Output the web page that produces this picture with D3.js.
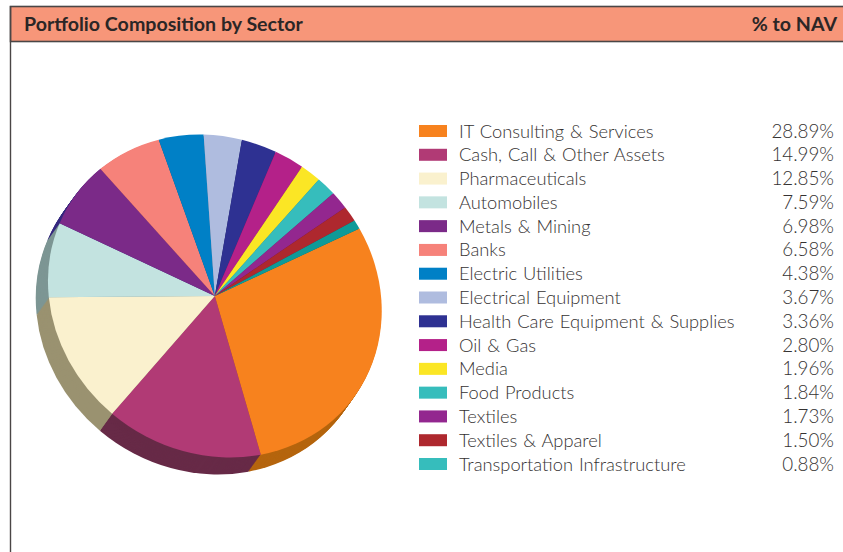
<!DOCTYPE html>
<html>
<head>
<meta charset="utf-8">
<script src="https://cdn.jsdelivr.net/npm/d3@7"></script>
<style>
  html, body { margin: 0; padding: 0; background: #fff; overflow: hidden; }
  svg { display: block; }
  text { font-family: Lato, "Open Sans", sans-serif; }
</style>
</head>
<body>
<script>
const sectors = ["IT Consulting & Services", "Cash, Call & Other Assets", "Pharmaceuticals", "Automobiles", "Metals & Mining", "Banks", "Electric Utilities", "Electrical Equipment", "Health Care Equipment & Supplies", "Oil & Gas", "Media", "Food Products", "Textiles", "Textiles & Apparel", "Transportation Infrastructure"];
const shares = [28.89, 14.99, 12.85, 7.59, 6.98, 6.58, 4.38, 3.67, 3.36, 2.80, 1.96, 1.84, 1.73, 1.50, 0.88];
const swatchColors = ["#f7821e", "#b13a75", "#faf1ce", "#c3e3e0", "#7b2a88", "#f6827a", "#0080c6", "#afbcdf", "#2e3192", "#b42189", "#fbe625", "#36bdbc", "#93278f", "#ae282e", "#36bdbc"];
const sliceColors = ["#f7821e", "#b13a75", "#faf1ce", "#c3e3e0", "#7b2a88", "#f6827a", "#0080c6", "#afbcdf", "#2e3192", "#b42189", "#fbe625", "#36bdbc", "#93278f", "#ae282e", "#0f9a98"];
const sideColors = ["#b5650e", "#672a47", "#9a9270", "#7d9694", "#35287f", "#a0524d", "#00527f", "#70798f", "#1c1e5c", "#731557", "#a19317", "#227978", "#5e195c", "#6f191d", "#096260"];

const W = 843;
const H = 552;

const svg = d3.select("body")
.append("svg")
.attr("width", W)
.attr("height", H);

// header band and frame
svg.append("rect")
.attr("x", 10.5)
.attr("y", 6.5)
.attr("width", W)
.attr("height", 35)
.attr("fill", "#f79679")
.attr("stroke", "#4a4646")
.attr("stroke-width", 1.6);

svg.append("line")
.attr("x1", 10.5)
.attr("x2", 10.5)
.attr("y1", 6)
.attr("y2", H)
.attr("stroke", "#4a4646")
.attr("stroke-width", 1.4);

svg.append("text")
.text("Portfolio Composition by Sector")
.attr("x", 24)
.attr("y", 31)
.attr("font-size", 19.6)
.attr("font-weight", 700)
.attr("fill", "#2b2626");

svg.append("text")
.text("% to NAV")
.attr("x", 837)
.attr("y", 31)
.attr("text-anchor", "end")
.attr("font-size", 19.6)
.attr("font-weight", 700)
.attr("fill", "#2b2626");

// the pie is a tilted ellipse, so it is drawn on a unit circle and transformed
const slices = d3.pie()
.sort(null)
.startAngle(62.6 * Math.PI / 180)
.endAngle(422.6 * Math.PI / 180)(shares);

const arc = d3.arc().innerRadius(0).outerRadius(1);
const tilt = "rotate(35) scale(172,156) rotate(-35)";
const depth = 17;

const pie = svg.append("g").attr("id", "pie");

// side wall: the same slices stacked towards the lower left
d3.range(depth, 0, -1).forEach(step => {
  pie.append("g")
  .attr("transform", `translate(${214.8 - step * 0.72},${296 + step}) ${tilt}`)
  .selectAll("path")
  .data(slices)
  .enter()
  .append("path")
  .attr("d", arc)
  .attr("fill", (d, i) => sideColors[i]);
});

pie.append("g")
.attr("transform", `translate(214.8,296) ${tilt}`)
.selectAll("path")
.data(slices)
.enter()
.append("path")
.attr("d", arc)
.attr("fill", (d, i) => sliceColors[i]);

// legend
const rowY = d3.scalePoint()
.domain(sectors)
.range([131, 464]);

const legend = svg.append("g").attr("id", "legend");

const rows = legend.selectAll("g")
.data(sectors)
.enter()
.append("g")
.attr("transform", d => `translate(0,${rowY(d)})`);

rows.append("rect")
.attr("x", 419)
.attr("y", -6)
.attr("width", 28)
.attr("height", 12)
.attr("fill", (d, i) => swatchColors[i]);

rows.append("text")
.text(d => d)
.attr("x", 459)
.attr("y", 6.5)
.attr("font-size", 18.3)
.attr("word-spacing", 1)
.attr("font-weight", 300)
.attr("fill", "#353232");

rows.append("text")
.text((d, i) => shares[i].toFixed(2) + "%")
.attr("x", 834)
.attr("y", 6.5)
.attr("text-anchor", "end")
.attr("font-size", 18.8)
.attr("font-weight", 300)
.attr("fill", "#353232");
</script>
</body>
</html>
